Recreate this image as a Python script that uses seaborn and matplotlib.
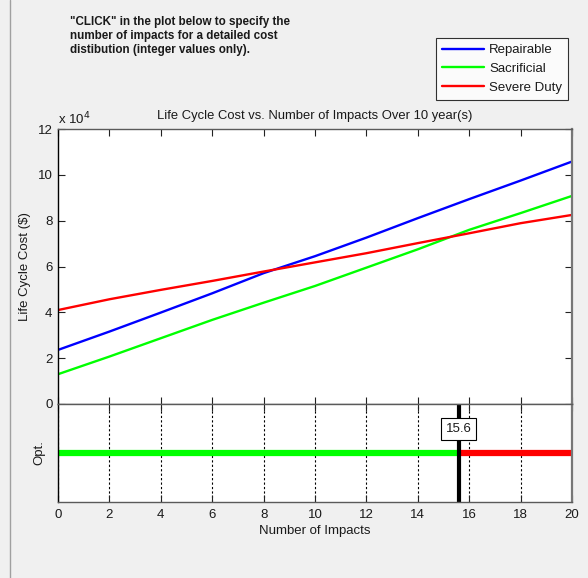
import numpy as np
import pandas as pd
import matplotlib
matplotlib.use("Agg")
import matplotlib.pyplot as plt
import seaborn as sns
from matplotlib.lines import Line2D

# ============================================================
# Data
# ============================================================

impacts = [0, 2, 4, 6, 8, 10, 12, 14, 16, 18, 20]
repairable = [2.36, 3.16, 3.99, 4.83, 5.71, 6.45, 7.26, 8.11, 8.94, 9.75, 10.58]
sacrificial = [1.30, 2.07, 2.87, 3.67, 4.42, 5.15, 5.95, 6.75, 7.60, 8.33, 9.08]
severe_duty = [4.10, 4.57, 4.98, 5.37, 5.78, 6.18, 6.58, 7.02, 7.45, 7.89, 8.25]

series_names = ["Repairable", "Sacrificial", "Severe Duty"]
series_colors = ["#0000ff", "#00ff00", "#ff0000"]

crossover = 15.6
opt_segments = [("Sacrificial", 0, crossover), ("Severe Duty", crossover, 20)]

x_ticks = list(range(0, 21, 2))
y_ticks = list(range(0, 13, 2))

# costs in dollars
df = pd.DataFrame({
    "Impacts": impacts * 3,
    "Cost": np.array(repairable + sacrificial + severe_duty) * 1e4,
    "Type": sum([[n] * len(impacts) for n in series_names], []),
})

# ============================================================
# Style
# ============================================================

sns.set_style("white")
plt.rcParams["font.family"] = ["Liberation Sans", "DejaVu Sans"]
plt.rcParams["xtick.direction"] = "in"
plt.rcParams["ytick.direction"] = "in"

bg = "#f0f0f0"
txt = "#1a1a1a"
spine_gray = "#5a5a5a"
fs = 9.5

fig = plt.figure(figsize=(5.88, 5.78), dpi=100, facecolor=bg)

ax = fig.add_axes([58 / 588, 1 - 404 / 578, 514 / 588, 275 / 578])
ax2 = fig.add_axes([58 / 588, 1 - 502 / 578, 514 / 588, 98 / 578])

# ============================================================
# Main plot
# ============================================================

palette = dict(zip(series_names, series_colors))
sns.lineplot(data=df, x="Impacts", y="Cost", hue="Type", palette=palette,
             linewidth=1.7, ax=ax, legend=False)

ax.set_xlim(0, 20)
ax.set_ylim(0, 12e4)
ax.set_xticks(x_ticks)
ax.set_xticklabels([])
ax.set_yticks([v * 1e4 for v in y_ticks])
ax.set_yticklabels([str(v) for v in y_ticks], fontsize=fs, color=txt)
ax.tick_params(axis="both", length=5, width=0.8, color="#222222",
               top=True, right=True, bottom=True, left=True, pad=4)
ax.set_xlabel("")
ax.set_ylabel("Life Cycle Cost ($)", fontsize=fs, color=txt, labelpad=5)
ax.set_title("Life Cycle Cost vs. Number of Impacts Over 10 year(s)",
             fontsize=9.4, color=txt, pad=7)
ax.text(0.0, 1.008, "x 10$^4$", transform=ax.transAxes, fontsize=fs,
        color=txt, ha="left", va="bottom")

for side in ["left", "right", "top", "bottom"]:
    ax.spines[side].set_visible(True)
    ax.spines[side].set_linewidth(1.0)
ax.spines["left"].set_color("#000000")
ax.spines["top"].set_color(spine_gray)
ax.spines["right"].set_color("#777777")
ax.spines["right"].set_linewidth(1.6)
ax.spines["bottom"].set_color(spine_gray)

# ============================================================
# Optimal panel
# ============================================================

for name, x0, x1 in opt_segments:
    ax2.plot([x0, x1], [0.5, 0.5], color=palette[name], linewidth=4.5,
             solid_capstyle="butt")
ax2.axvline(crossover, color="black", linewidth=3)
ax2.text(crossover, 0.745, f"{crossover:.1f}", ha="center", va="center",
         fontsize=fs, color=txt,
         bbox=dict(boxstyle="square,pad=0.35", facecolor="white",
                   edgecolor="black", linewidth=0.8), zorder=5)

ax2.set_xlim(0, 20)
ax2.set_ylim(0, 1)
ax2.set_xticks(x_ticks)
ax2.set_xticklabels([str(v) for v in x_ticks], fontsize=fs, color=txt)
ax2.set_yticks([])
ax2.tick_params(axis="x", length=5, width=0.8, color="#222222",
                top=True, bottom=True, pad=5)
ax2.grid(axis="x", color="black", linestyle=(0, (2, 2)), linewidth=0.8)
ax2.set_axisbelow(True)
ax2.set_xlabel("Number of Impacts", fontsize=fs, color=txt, labelpad=3)
ax2.set_ylabel("Opt.", fontsize=fs, color=txt, labelpad=9)

for side in ["left", "right", "top", "bottom"]:
    ax2.spines[side].set_visible(True)
    ax2.spines[side].set_linewidth(1.0)
ax2.spines["left"].set_color("#000000")
ax2.spines["bottom"].set_color(spine_gray)
ax2.spines["top"].set_color(spine_gray)
ax2.spines["right"].set_color("#777777")
ax2.spines["right"].set_linewidth(1.6)

# ============================================================
# Legend and instructions
# ============================================================

handles = [Line2D([], [], color=c, linewidth=1.7) for c in series_colors]
leg = fig.legend(handles, series_names, loc="upper right",
                 bbox_to_anchor=(568 / 588, 1 - 38 / 578), fontsize=fs,
                 frameon=True, fancybox=False, handlelength=3.2,
                 borderpad=0.45, labelspacing=0.5, handletextpad=0.35,
                 borderaxespad=0)
leg.get_frame().set_edgecolor("black")
leg.get_frame().set_linewidth(0.8)
for t in leg.get_texts():
    t.set_color(txt)

fig.text(70 / 588, 1 - 16 / 578,
         '"CLICK" in the plot below to specify the\n'
         'number of impacts for a detailed cost\n'
         'distibution (integer values only).',
         fontsize=8.4, fontweight="bold", color=txt, ha="left", va="top",
         linespacing=1.25)

# panel border on the left
fig.add_artist(Line2D([10 / 588, 10 / 588], [0, 1], transform=fig.transFigure,
                      color="#a0a0a0", linewidth=1.0))

plt.savefig("out.png", dpi=100, facecolor=bg)
plt.close()
